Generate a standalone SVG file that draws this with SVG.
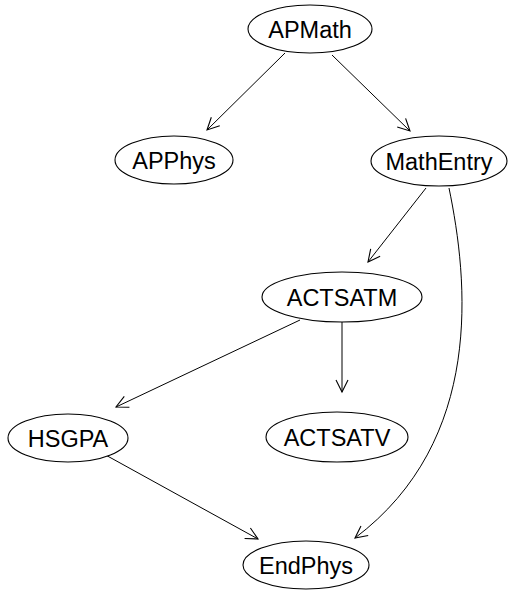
<svg xmlns="http://www.w3.org/2000/svg" width="515" height="592" viewBox="0 0 515 592">
  <style>
    .node ellipse { fill: #ffffff; stroke: #000000; stroke-width: 1.1; }
    .node text { font-family: "Liberation Sans", Arial, sans-serif; font-size: 23.5px; fill: #000000; text-anchor: middle; }
    .edge { fill: none; stroke: #000000; stroke-width: 1; marker-end: url(#arrow); }
  </style>
  <defs>
    <marker id="arrow" viewBox="-13 -7 15 14" refX="0" refY="0" markerWidth="15" markerHeight="14" markerUnits="userSpaceOnUse" orient="auto">
      <polyline points="-12,-6 0,0 -12,6" fill="none" stroke="#000000" stroke-width="1.1"/>
    </marker>
  </defs>
  <rect width="515" height="592" fill="#ffffff"/>

  <g id="connectors">
    <path class="edge" d="M285,53 L207,130"/>
    <path class="edge" d="M332,55 L410,131"/>
    <path class="edge" d="M426,188 L368,262"/>
    <path class="edge" d="M449,188 C468,280 485,440 355,538"/>
    <path class="edge" d="M300,320 L116,407"/>
    <path class="edge" d="M342,322 L342,392"/>
    <path class="edge" d="M102,453 L258,539"/>
  </g>

  <g id="APMath" class="node">
    <ellipse cx="310" cy="29" rx="62" ry="24"/>
    <text x="310" y="37.5">APMath</text>
  </g>
  <g id="APPhys" class="node">
    <ellipse cx="174" cy="160" rx="59" ry="24"/>
    <text x="174" y="168.5">APPhys</text>
  </g>
  <g id="MathEntry" class="node">
    <ellipse cx="439" cy="161" rx="68" ry="25"/>
    <text x="439" y="169.5">MathEntry</text>
  </g>
  <g id="ACTSATM" class="node">
    <ellipse cx="342" cy="297" rx="80" ry="25"/>
    <text x="342" y="305.5">ACTSATM</text>
  </g>
  <g id="HSGPA" class="node">
    <ellipse cx="68" cy="438" rx="60" ry="24"/>
    <text x="68" y="446.5">HSGPA</text>
  </g>
  <g id="ACTSATV" class="node">
    <ellipse cx="337" cy="437" rx="71" ry="25"/>
    <text x="337" y="445.5">ACTSATV</text>
  </g>
  <g id="EndPhys" class="node">
    <ellipse cx="306" cy="565" rx="63" ry="24"/>
    <text x="306" y="573.5">EndPhys</text>
  </g>
</svg>
